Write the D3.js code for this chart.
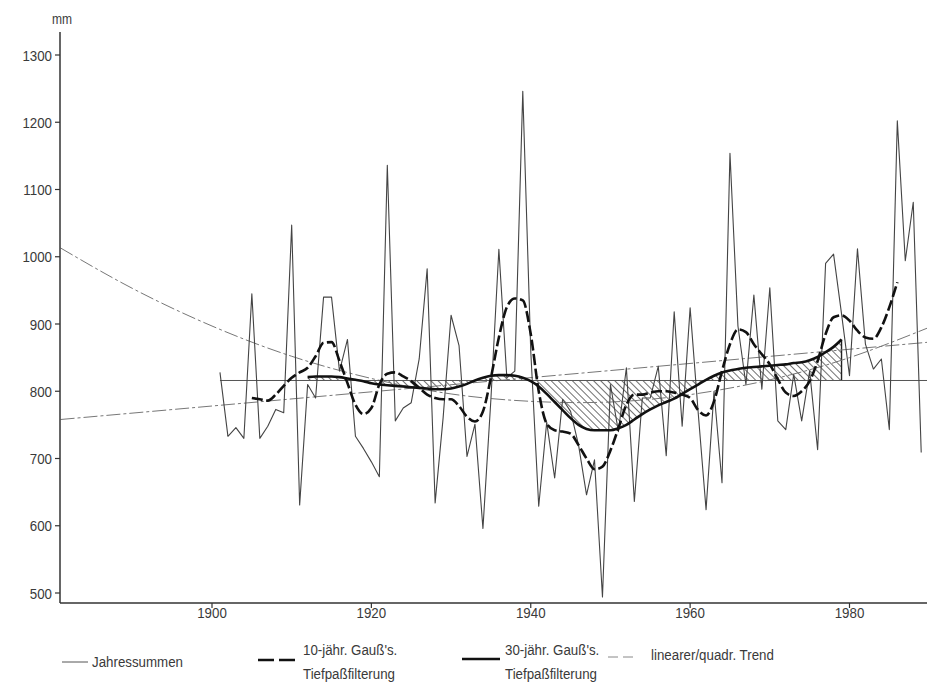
<!DOCTYPE html>
<html>
<head>
<meta charset="utf-8">
<script src="https://cdn.jsdelivr.net/npm/d3@7"></script>
<style>
  html, body { margin: 0; padding: 0; background: #fff; }
  svg { display: block; }
  text { font-family: "Liberation Sans", Arial, Helvetica, sans-serif; fill: #3a3a3a; }
</style>
</head>
<body>
<svg id="chart" width="927" height="694"></svg>
<script>
// ---------------- DATA ----------------
const annualYears = d3.range(1901, 1990);
const annualValues = [
  828, 733, 746, 730, 945, 730, 748, 773, 768, 1047,   // 1901-1910
  631, 810, 790, 940, 940, 830, 877, 733, 715, 695,    // 1911-1920
  673, 1136, 756, 775, 783, 848, 982, 634, 760, 913,   // 1921-1930
  868, 703, 751, 596, 788, 1011, 820, 830, 1246, 860,  // 1931-1940
  629, 754, 671, 788, 770, 720, 646, 698, 494, 810,    // 1941-1950
  740, 835, 636, 790, 790, 837, 704, 918, 748, 924,    // 1951-1960
  770, 624, 800, 664, 1154, 897, 810, 943, 803, 954,   // 1961-1970
  756, 743, 825, 756, 830, 713, 990, 1004, 915, 823,   // 1971-1980
  1012, 870, 833, 848, 743, 1202, 994, 1081, 709       // 1981-1989
];

const filter10Years = d3.range(1905, 1987);
const filter10Values = [
  790, 788, 786, 795, 808, 820, 828, 835, 852, 872,    // 1905-1914
  873, 845, 812, 780, 766, 775, 810, 826, 828, 822,    // 1915-1924
  815, 805, 795, 790, 788, 788, 778, 762, 755, 770,    // 1925-1934
  820, 880, 925, 938, 935, 885, 800, 752, 742, 740,    // 1935-1944
  737, 720, 700, 684, 688, 712, 745, 780, 795, 795,    // 1945-1954
  798, 800, 800, 798, 795, 790, 772, 764, 785, 830,    // 1955-1964
  870, 892, 888, 870, 855, 840, 818, 798, 793, 800,    // 1965-1974
  815, 845, 885, 910, 913, 905, 890, 880, 878, 895,    // 1975-1984
  925, 962                                             // 1985-1986
];

const filter30Years = d3.range(1912, 1980);
const filter30Values = [
  821, 822, 822, 822, 821, 819, 817, 815, 812, 810,    // 1912-1921
  809, 808, 807, 806, 805, 804, 803, 803, 804, 807,    // 1922-1931
  811, 816, 820, 823, 824, 824, 823, 820, 815, 807,    // 1932-1941
  796, 784, 772, 760, 750, 744, 742, 742, 742, 745,    // 1942-1951
  750, 758, 766, 773, 779, 784, 789, 796, 803, 810,    // 1952-1961
  817, 823, 828, 831, 833, 835, 836, 837, 838, 839,    // 1962-1971
  840, 842, 843, 846, 851, 858, 866, 877               // 1972-1979
];

const meanYears = [1901, 1990];
const meanValues = [816, 816];

const linTrendYears = [1881, 1990];
const linTrendValues = [758, 873];

const quadTrendYears = [1881, 1890, 1900, 1910, 1920, 1930, 1940, 1950, 1960, 1970, 1980, 1990];
const quadTrendValues = [1013, 953, 897, 852, 819, 796, 785, 784, 795, 817, 850, 895];

const yTicks = [500, 600, 700, 800, 900, 1000, 1100, 1200, 1300];
const xTicks = [1900, 1920, 1940, 1960, 1980];
const unitLabel = "mm";
const legendLabels = [
  ["Jahressummen"],
  ["10-jähr. Gauß's.", "Tiefpaßfilterung"],
  ["30-jähr. Gauß's.", "Tiefpaßfilterung"],
  ["linearer/quadr. Trend"]
];

// ---------------- SCALES ----------------
const svg = d3.select("#chart");
const W = 927, H = 694;
svg.append("rect").attr("width", W).attr("height", H).attr("fill", "#fff");

const x = d3.scaleLinear().domain([1900, 1980]).range([212, 849.5]);
const y = d3.scaleLinear().domain([500, 1300]).range([593, 55]);

const plotLeft = 60, plotRight = 927, plotBottom = 603, plotTop = 32;
const FS = 15.5;
const SX = 0.86; // horizontal condensation of the typeface

function ctext(parent, tx, ty, str, anchor, size, dy) {
  return parent.append("text")
    .attr("transform", `translate(${tx},${ty}) scale(${SX},1)`)
    .attr("x", 0).attr("y", 0)
    .attr("dy", dy || null)
    .attr("text-anchor", anchor || "start")
    .attr("font-size", size || FS)
    .text(str);
}

const defs = svg.append("defs");
const pat = defs.append("pattern")
  .attr("id", "hatch")
  .attr("patternUnits", "userSpaceOnUse")
  .attr("width", 5).attr("height", 5)
  .attr("patternTransform", "rotate(-45)");
pat.append("line").attr("x1", 0).attr("y1", 0).attr("x2", 0).attr("y2", 5)
  .attr("stroke", "#222").attr("stroke-width", 1.3);

defs.append("clipPath").attr("id", "plotclip")
  .append("rect").attr("x", plotLeft).attr("y", 0).attr("width", plotRight - plotLeft).attr("height", plotBottom);

const g = svg.append("g").attr("clip-path", "url(#plotclip)");

// ---------------- HATCHED AREA (30yr filter vs mean) ----------------
const f30 = filter30Years.map((yr, i) => ({ yr, v: filter30Values[i] }));
const meanAt = yr => meanValues[0] + (meanValues[1] - meanValues[0]) * (yr - meanYears[0]) / (meanYears[1] - meanYears[0]);
g.append("path")
  .datum(f30)
  .attr("d", d3.area().x(d => x(d.yr)).y0(d => y(meanAt(d.yr))).y1(d => y(d.v)).curve(d3.curveMonotoneX))
  .attr("fill", "url(#hatch)")
  .attr("stroke", "none");
const lastYr = filter30Years[filter30Years.length - 1];
g.append("line")
  .attr("x1", x(lastYr)).attr("x2", x(lastYr))
  .attr("y1", y(filter30Values[filter30Values.length - 1])).attr("y2", y(meanAt(lastYr)))
  .attr("stroke", "#222").attr("stroke-width", 1.4);

// ---------------- TREND LINES ----------------
const trendStyle = sel => sel.attr("fill", "none").attr("stroke", "#777").attr("stroke-width", 1)
  .attr("stroke-dasharray", "14,3,3,3");
g.append("path")
  .datum(quadTrendYears.map((yr, i) => ({ yr, v: quadTrendValues[i] })))
  .attr("d", d3.line().x(d => x(d.yr)).y(d => y(d.v)).curve(d3.curveNatural))
  .call(trendStyle);
g.append("path")
  .datum(linTrendYears.map((yr, i) => ({ yr, v: linTrendValues[i] })))
  .attr("d", d3.line().x(d => x(d.yr)).y(d => y(d.v)))
  .call(trendStyle);

// ---------------- MEAN LINE ----------------
g.append("path")
  .datum(meanYears.map((yr, i) => ({ yr, v: meanValues[i] })))
  .attr("d", d3.line().x(d => x(d.yr)).y(d => y(d.v)))
  .attr("fill", "none").attr("stroke", "#555").attr("stroke-width", 1);

// ---------------- ANNUAL SERIES ----------------
g.append("path")
  .datum(annualYears.map((yr, i) => ({ yr, v: annualValues[i] })))
  .attr("d", d3.line().x(d => x(d.yr)).y(d => y(d.v)))
  .attr("fill", "none").attr("stroke", "#444").attr("stroke-width", 1.1)
  .attr("stroke-linejoin", "round");

// ---------------- 30yr FILTER ----------------
g.append("path")
  .datum(f30)
  .attr("d", d3.line().x(d => x(d.yr)).y(d => y(d.v)).curve(d3.curveMonotoneX))
  .attr("fill", "none").attr("stroke", "#111").attr("stroke-width", 2.6);

// ---------------- 10yr FILTER ----------------
g.append("path")
  .datum(filter10Years.map((yr, i) => ({ yr, v: filter10Values[i] })))
  .attr("d", d3.line().x(d => x(d.yr)).y(d => y(d.v)).curve(d3.curveMonotoneX))
  .attr("fill", "none").attr("stroke", "#111").attr("stroke-width", 2.6)
  .attr("stroke-dasharray", "11,3.5");

// ---------------- AXES ----------------
const axisColor = "#333";
svg.append("line").attr("x1", plotLeft).attr("x2", plotLeft).attr("y1", plotTop).attr("y2", plotBottom)
  .attr("stroke", axisColor).attr("stroke-width", 1.5);
const yAxisG = svg.append("g");
yTicks.forEach(v => {
  yAxisG.append("line").attr("x1", plotLeft - 5).attr("x2", plotLeft).attr("y1", y(v)).attr("y2", y(v))
    .attr("stroke", axisColor).attr("stroke-width", 1.2);
  ctext(yAxisG, plotLeft - 8, y(v), String(v), "end", FS, "0.36em");
});
ctext(svg, 62, 24, unitLabel, "middle", 14);

svg.append("line").attr("x1", plotLeft).attr("x2", plotRight).attr("y1", plotBottom).attr("y2", plotBottom)
  .attr("stroke", axisColor).attr("stroke-width", 1.5);
const xAxisG = svg.append("g");
xTicks.forEach(v => {
  xAxisG.append("line").attr("x1", x(v)).attr("x2", x(v)).attr("y1", plotBottom).attr("y2", plotBottom + 5)
    .attr("stroke", axisColor).attr("stroke-width", 1.2);
  ctext(xAxisG, x(v), 618, String(v), "middle", FS);
});

// ---------------- LEGEND ----------------
const lg = svg.append("g");
lg.append("line").attr("x1", 62).attr("x2", 88).attr("y1", 662).attr("y2", 662)
  .attr("stroke", "#555").attr("stroke-width", 1);
ctext(lg, 92, 667, legendLabels[0][0]);
lg.append("line").attr("x1", 258).attr("x2", 297).attr("y1", 660).attr("y2", 660)
  .attr("stroke", "#111").attr("stroke-width", 2.6).attr("stroke-dasharray", "16,5");
ctext(lg, 303, 655, legendLabels[1][0]);
ctext(lg, 303, 679, legendLabels[1][1]);
lg.append("line").attr("x1", 462).attr("x2", 500).attr("y1", 659).attr("y2", 659)
  .attr("stroke", "#111").attr("stroke-width", 2.6);
ctext(lg, 505, 655, legendLabels[2][0]);
ctext(lg, 505, 679, legendLabels[2][1]);
lg.append("line").attr("x1", 608).attr("x2", 637).attr("y1", 657).attr("y2", 657)
  .attr("stroke", "#888").attr("stroke-width", 1).attr("stroke-dasharray", "10,5");
ctext(lg, 651, 660, legendLabels[3][0]);
</script>
</body>
</html>
